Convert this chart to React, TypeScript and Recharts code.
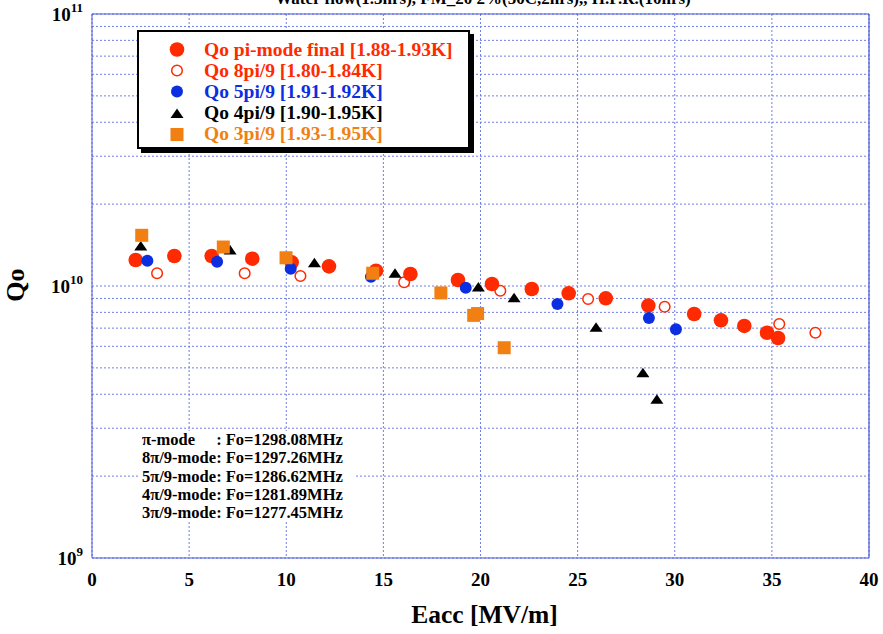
import React from 'react';
import { ScatterChart, Scatter, XAxis, YAxis, CartesianGrid, ReferenceLine } from 'recharts';

const FONT = '"Liberation Serif", "Times New Roman", serif';
const GRID = '#6f7fe6';
const AXIS = '#4858d8';
const RED = '#ff2a00';
const BLUE = '#0b2ee0';
const ORANGE = '#f27f12';

const xTicks = [0, 5, 10, 15, 20, 25, 30, 35, 40];
const yTicks = [1e9, 1e10, 1e11];
const minorQ = [2e9, 3e9, 4e9, 5e9, 6e9, 7e9, 8e9, 9e9, 2e10, 3e10, 4e10, 5e10, 6e10, 7e10, 8e10, 9e10];

// pi-mode final [1.88-1.93K]
const piEacc = [2.25, 4.24, 6.16, 8.25, 10.28, 12.2, 14.62, 16.39, 18.84, 20.59, 22.64, 24.54, 26.45, 28.64, 31.0, 32.38, 33.58, 34.75, 35.32];
const piQo = [1.246e10, 1.289e10, 1.289e10, 1.26e10, 1.222e10, 1.181e10, 1.138e10, 1.107e10, 1.052e10, 1.017e10, 9.75e9, 9.4e9, 9.01e9, 8.47e9, 7.89e9, 7.48e9, 7.13e9, 6.73e9, 6.44e9];

// 8pi/9 [1.80-1.84K]
const m8Eacc = [3.35, 7.86, 10.73, 16.07, 21.02, 25.54, 29.48, 35.38, 37.24];
const m8Qo = [1.114e10, 1.114e10, 1.088e10, 1.032e10, 9.61e9, 8.96e9, 8.39e9, 7.25e9, 6.73e9];

// 5pi/9 [1.91-1.92K]
const m5Eacc = [2.85, 6.44, 10.23, 14.36, 19.24, 23.96, 28.67, 30.06];
const m5Qo = [1.239e10, 1.228e10, 1.158e10, 1.082e10, 9.86e9, 8.59e9, 7.63e9, 6.93e9];

// 4pi/9 [1.90-1.95K]
const m4Eacc = [2.51, 7.11, 11.45, 15.6, 19.89, 21.73, 25.95, 28.36, 29.08];
const m4Qo = [1.403e10, 1.357e10, 1.218e10, 1.114e10, 9.92e9, 9.06e9, 7.05e9, 4.8e9, 3.83e9];

// 3pi/9 [1.93-1.95K]
const m3Eacc = [2.56, 6.76, 9.99, 14.45, 17.96, 19.65, 19.85, 21.22];
const m3Qo = [1.536e10, 1.391e10, 1.27e10, 1.114e10, 9.43e9, 7.8e9, 7.92e9, 5.93e9];

const legendItems = [
  { label: 'Qo pi-mode final [1.88-1.93K]', color: RED, kind: 'dot' },
  { label: 'Qo 8pi/9 [1.80-1.84K]', color: RED, kind: 'ring' },
  { label: 'Qo 5pi/9 [1.91-1.92K]', color: BLUE, kind: 'small' },
  { label: 'Qo 4pi/9 [1.90-1.95K]', color: '#000', kind: 'tri' },
  { label: 'Qo 3pi/9 [1.93-1.95K]', color: ORANGE, kind: 'sq' },
];

const modeNames = ['π-mode', '8π/9-mode', '5π/9-mode', '4π/9-mode', '3π/9-mode'];
const modeFreqs = ['1298.08', '1297.26', '1286.62', '1281.89', '1277.45'];

const toPoints = (xs: number[], ys: number[]) => xs.map((x, i) => ({ eacc: x, qo: ys[i] }));

function Marker({ kind, color, cx, cy }: { kind: string; color: string; cx: number; cy: number }) {
  if (kind === 'dot') return <circle cx={cx} cy={cy} r={7.3} fill={color} />;
  if (kind === 'ring') return <circle cx={cx} cy={cy} r={5.3} fill="#fff" stroke={color} strokeWidth={1.5} />;
  if (kind === 'small') return <circle cx={cx} cy={cy} r={6} fill={color} />;
  if (kind === 'tri') return <polygon points={`${cx},${cy - 5} ${cx - 6.5},${cy + 4.5} ${cx + 6.5},${cy + 4.5}`} fill={color} />;
  return <rect x={cx - 6.5} y={cy - 6.5} width={13} height={13} fill={color} />;
}

const shapeOf = (kind: string, color: string) => (p: any) => <Marker kind={kind} color={color} cx={p.cx} cy={p.cy} />;

function YTick({ x, y, payload }: any) {
  const exp = Math.round(Math.log10(payload.value));
  return (
    <text x={x - 1} y={y + 7} textAnchor="end" fontFamily={FONT} fontWeight="bold" fontSize={19} fill="#000">
      10<tspan dy={-9} fontSize={13}>{exp}</tspan>
    </text>
  );
}

function XTick({ x, y, payload }: any) {
  return (
    <text x={x} y={y + 20} textAnchor="middle" fontFamily={FONT} fontWeight="bold" fontSize={19} fill="#000">
      {payload.value}
    </text>
  );
}

export default function App() {
  return (
    <div style={{ position: 'absolute', left: 0, top: 0, width: 883, height: 634, background: '#fff', fontFamily: FONT }}>
      <ScatterChart width={883} height={634} margin={{ top: 14, right: 14, bottom: 16, left: 0 }}>
        <CartesianGrid stroke={GRID} strokeDasharray="2 2" horizontal={true} vertical={true} />
        {minorQ.map((q) => (
          <ReferenceLine key={q} y={q} stroke={GRID} strokeDasharray="2 2" />
        ))}
        <ReferenceLine y={1e11} stroke={AXIS} strokeWidth={1.2} />
        <ReferenceLine x={40} stroke={AXIS} strokeWidth={1.2} />
        <XAxis
          type="number"
          dataKey="eacc"
          domain={[0, 40]}
          ticks={xTicks}
          height={60}
          stroke={AXIS}
          tickLine={false}
          tick={<XTick />}
          allowDataOverflow
        />
        <YAxis
          type="number"
          dataKey="qo"
          scale="log"
          domain={[1e9, 1e11]}
          ticks={yTicks}
          width={92}
          stroke={AXIS}
          tickLine={false}
          tick={<YTick />}
          allowDataOverflow
        />
        <Scatter data={toPoints(m8Eacc, m8Qo)} shape={shapeOf('ring', RED)} isAnimationActive={false} />
        <Scatter data={toPoints(piEacc, piQo)} shape={shapeOf('dot', RED)} isAnimationActive={false} />
        <Scatter data={toPoints(m5Eacc, m5Qo)} shape={shapeOf('small', BLUE)} isAnimationActive={false} />
        <Scatter data={toPoints(m4Eacc, m4Qo)} shape={shapeOf('tri', '#000')} isAnimationActive={false} />
        <Scatter data={toPoints(m3Eacc, m3Qo)} shape={shapeOf('sq', ORANGE)} isAnimationActive={false} />
      </ScatterChart>

      <div style={{ position: 'absolute', left: 0, width: 966, top: -11, textAlign: 'center', fontWeight: 'bold', fontSize: 17, whiteSpace: 'nowrap' }}>
        Water flow(1.5hrs), FM_20 2%(50C,2hrs),, H.P.R.(10hrs)
      </div>

      <div style={{ position: 'absolute', left: -4, top: 270, width: 40, textAlign: 'center', transform: 'rotate(-90deg)', fontWeight: 'bold', fontSize: 26 }}>
        Qo
      </div>

      <div style={{ position: 'absolute', left: 96, width: 777, top: 600, textAlign: 'center', fontWeight: 'bold', fontSize: 25.5 }}>
        Eacc [MV/m]
      </div>

      <div
        style={{
          position: 'absolute',
          left: 137,
          top: 30,
          width: 329,
          height: 115,
          border: '2px solid #000',
          background: '#fff',
          boxShadow: '4px 4px 0 #000',
        }}
      >
        {legendItems.map((it, i) => (
          <div key={it.label} style={{ position: 'absolute', left: 0, top: 7 + i * 21.2, height: 21, width: 329, display: 'flex', alignItems: 'center' }}>
            <svg width={60} height={21} style={{ flex: 'none' }}>
              <Marker kind={it.kind} color={it.color} cx={38} cy={10.5} />
            </svg>
            <span style={{ color: it.color, fontWeight: 'bold', fontSize: 19.5, marginLeft: 5, whiteSpace: 'nowrap' }}>{it.label}</span>
          </div>
        ))}
      </div>

      <div style={{ position: 'absolute', left: 139, top: 431, width: 215, height: 90, background: '#fff' }}>
        <div style={{ position: 'absolute', left: 3, top: 0, width: 'max-content', fontWeight: 'bold', fontSize: 16.5, lineHeight: '18.3px' }}>
          {modeNames.map((m, i) =>
            i === 0 ? (
              <div key={m} style={{ display: 'flex', justifyContent: 'space-between', whiteSpace: 'nowrap' }}>
                <span>{m}</span>
                <span>: Fo={modeFreqs[i]}MHz</span>
              </div>
            ) : (
              <div key={m} style={{ whiteSpace: 'nowrap' }}>
                {m}: Fo={modeFreqs[i]}MHz
              </div>
            )
          )}
        </div>
      </div>
    </div>
  );
}
